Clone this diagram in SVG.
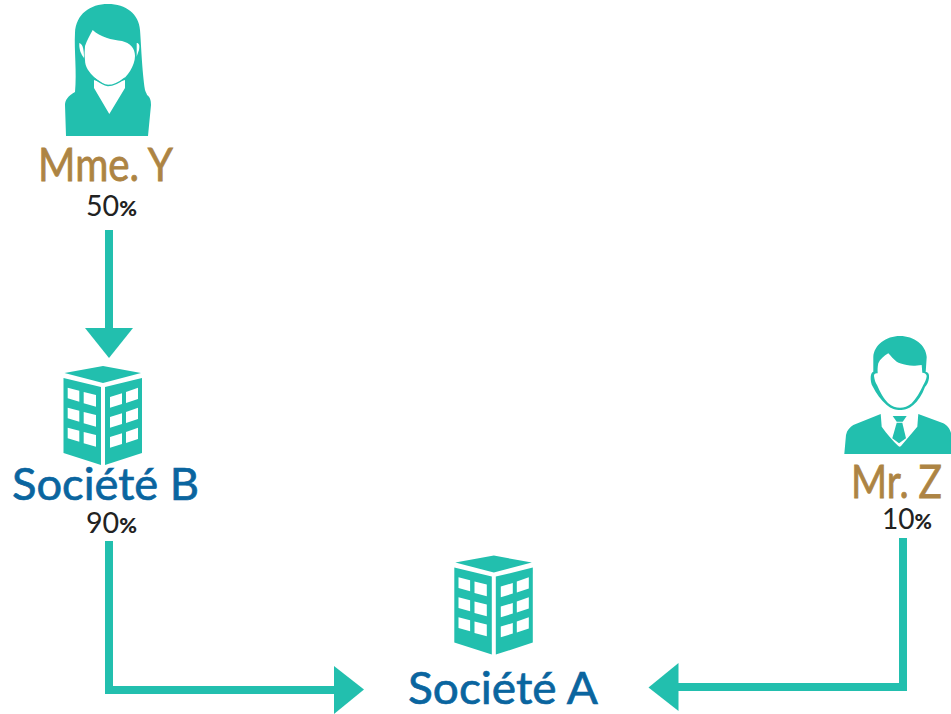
<svg xmlns="http://www.w3.org/2000/svg" width="951" height="714" viewBox="0 0 951 714">
<style>
.t{fill:#22bfae}
.w{fill:#fff}
.conn{fill:none;stroke:#22bfae;stroke-width:8}
.name{font-family:"Lato","Open Sans",sans-serif;font-size:47px;fill:#ad8443;stroke:#ad8443;stroke-width:.8px}
.co{font-family:"Lato","Open Sans",sans-serif;font-size:45px;fill:#0a659f;stroke:#0a659f;stroke-width:.7px}
.pc{font-family:"Lato","Open Sans",sans-serif;font-size:28px;fill:#222}
.pc tspan{font-size:21px;font-weight:900}
</style>
<defs>
<g id="bld">
<path class="t" d="M64.500 373 103 366 141 373 103 383Z"/>
<path class="t" d="M63.500 378 101 387V465L63.500 453Z"/>
<path class="t" d="M105 387 142 378V453L105 465Z"/>
<g id="winrow">
<path class="w" d="M67.700 387.700 79.300 390.700V401.700L67.700 398.300Z"/>
<path class="w" d="M83.700 392 96 395V406.700L83.700 403.300Z"/>
<path class="w" d="M110 397 122 393.300V404L110 407.700Z"/>
<path class="w" d="M126 392 138 387.700V399L126 403Z"/>
</g>
<use href="#winrow" y="20"/>
<use href="#winrow" y="40"/>
</g>
</defs>
<g id="connectors">
<path class="conn" d="M109 230V330"/>
<path class="t" d="M85 328H133L109 358Z"/>
<path class="conn" d="M109 541V690H336"/>
<path class="t" d="M334 666 364 689.500 334 714Z"/>
<path class="conn" d="M903 538V687H677"/>
<path class="t" d="M678.500 663 648.500 687.500 678.500 711Z"/>
</g>
<g id="mme-y">
<path class="t" d="M75 33C76 14 90 4 108 4C126 4 139 14 140 30C141 42 142 70 145 90C146 93 147 94 147 95C150 97 151 100 151 105L148 136H66L65 105C65 100 68 96 75 92C77 72 74 50 75 33Z"/>
<path class="w" d="M94 80 108 85 125 80V88L109.300 114 94 88Z"/>
<path class="w" d="M92.700 30C100 37 112 40 122 41C130 43 135 48 135 56C135 66 127 77 120 82C115 84 111 85 108 85C104 85 100 82 95 78C89 72 85 67 85 60C84 54 85 50 85 46C87 40 90 35 92.700 30Z"/>
<path d="M94 78C99 82 104 85 108 85.500C113 85.500 120 82 125 78" fill="none" stroke="#22bfae" stroke-width="1.500"/>
<path class="w" d="M79.300 43C82 44 84 47 84 58C81 54 79 50 79.300 43Z"/>
<path class="w" d="M136.700 43C139 43 140 45 139 50C138 53 137 55 136.700 57Z"/>
<text class="name" x="38" y="181" textLength="135" lengthAdjust="spacingAndGlyphs">Mme. Y</text>
<text class="pc" x="86" y="215.500" textLength="51" lengthAdjust="spacingAndGlyphs">50<tspan>%</tspan></text>
</g>
<g id="societe-b">
<use href="#bld"/>
<text class="co" x="12" y="500" textLength="187" lengthAdjust="spacingAndGlyphs">Société B</text>
<text class="pc" x="86" y="532.500" textLength="51" lengthAdjust="spacingAndGlyphs">90<tspan>%</tspan></text>
</g>
<g id="mr-z">
<path class="t" d="M900 336C914 336 926 345 926.700 357L925.700 372C928 372 929.500 374 929 378C928.500 382 927 385 925 387C922 395 918 401 913.300 405C909 409 904 410 900 410C896 410 891 409 886.700 405C881 400 876 393 873 387C871 384 870.500 380 870.700 376.700C871 374 872 372 873.300 371.700L873.300 357C874 345 886 336 900 336Z"/>
<path class="w" d="M888.300 353.300C884 356 880 359 878.300 363.300C877.500 367 877.500 370 877.700 373.300C875 373 874 374 874 376C874.500 380 875.500 383 877 385C880 392 884 399 888 403C892 406.500 896 407.700 900 407.700C904 407.700 908 406.500 911.700 403.300C916 399 920 392 923.300 385C925 382 926.500 379 926.700 376C926.500 374 925 373 922.300 372.700L921.700 365C915 366 911 366 906.700 365C902 364 899 363 896.700 361.700C893 359 891 356 888.300 353.300Z"/>
<path class="t" d="M844.300 454 846 435C847 430 850 427 853.300 425L880.700 414 881.700 426.700C887 434 893 441 898.300 446 899.500 447 900 447 901 446L917.300 426.700 918.300 414 943.300 423.300C947 425 950 429 951 433V454Z"/>
<path class="t" d="M892.700 416H906.700L902.700 421.700H896.700Z"/>
<path class="t" d="M896.700 422.700H902.300L906 438.300 899 443.300 892.300 438.300Z"/>
<text class="name" x="851" y="498" textLength="91" lengthAdjust="spacingAndGlyphs">Mr. Z</text>
<text class="pc" x="882" y="529" textLength="50" lengthAdjust="spacingAndGlyphs">10<tspan>%</tspan></text>
</g>
<g id="societe-a">
<use href="#bld" x="390.800" y="189.600"/>
<text class="co" x="408" y="704" textLength="190" lengthAdjust="spacingAndGlyphs">Société A</text>
</g>
</svg>
